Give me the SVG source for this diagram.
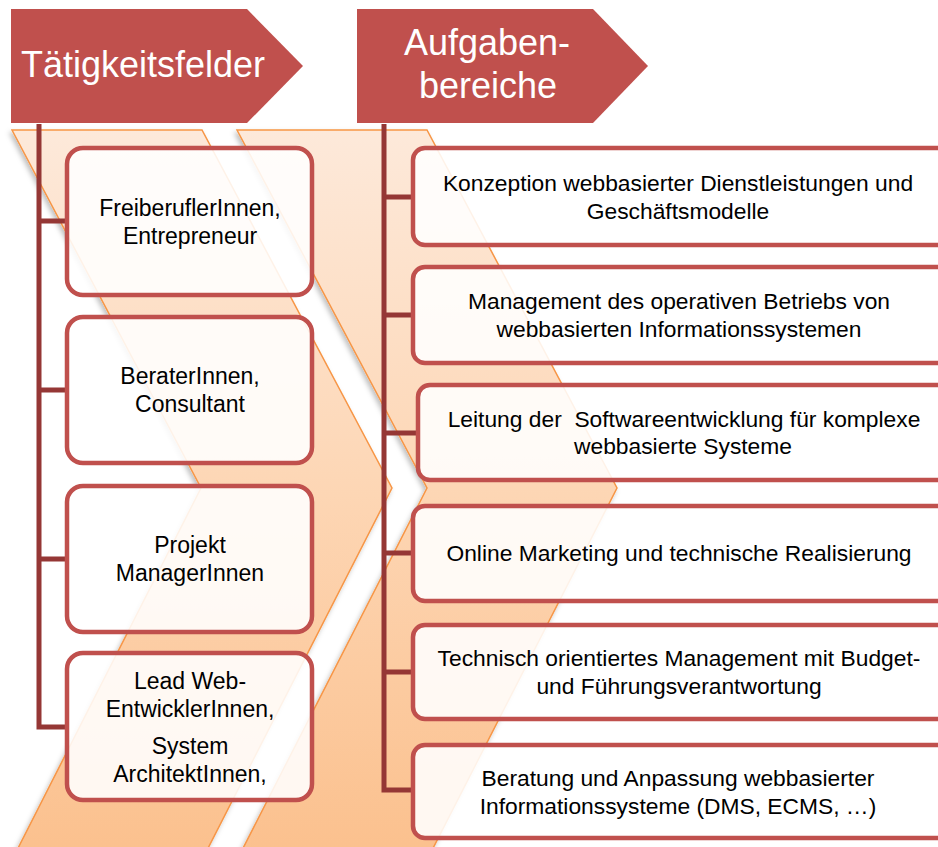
<svg xmlns="http://www.w3.org/2000/svg" width="938" height="847" viewBox="0 0 938 847">
<defs>
<linearGradient id="chevGrad" x1="0" y1="0" x2="0" y2="1">
<stop offset="0" stop-color="#fde9da"/>
<stop offset="0.5" stop-color="#fdd6b4"/>
<stop offset="1" stop-color="#fbc08d"/>
</linearGradient>
<filter id="shadow" x="-10%" y="-10%" width="130%" height="130%">
<feDropShadow dx="-2" dy="3" stdDeviation="2.5" flood-color="#000" flood-opacity="0.25"/>
</filter>
</defs>
<style>
.chev{fill:url(#chevGrad);stroke:#f79646;stroke-width:1.5;filter:url(#shadow)}
.hdr{fill:#c0504d}
.htxt{font-family:"Liberation Sans",Arial,sans-serif;font-size:36px;fill:#fff;text-anchor:middle}
.box{fill:#fff;fill-opacity:0.88;stroke:#c0504d;stroke-width:4.5}
.ltxt{font-family:"Liberation Sans",Arial,sans-serif;font-size:23px;fill:#000;text-anchor:middle}
.rtxt{font-family:"Liberation Sans",Arial,sans-serif;font-size:22.8px;fill:#000;text-anchor:middle;white-space:pre}
.conn{fill:none;stroke:#953735;stroke-width:5}
</style>
<rect width="938" height="847" fill="#fff"/>
<g id="chevrons">
<polygon class="chev" points="12,130 202,130 392,488 202,860 12,860 201,488"/>
<polygon class="chev" points="237,130 427,130 617,488 427,860 237,860 427,488"/>
</g>
<g id="header-taetigkeitsfelder">
<polygon class="hdr" points="11,9 247,9 303,66 247,123 11,123"/>
<text class="htxt" x="143" y="77">Tätigkeitsfelder</text>
</g>
<g id="header-aufgabenbereiche">
<polygon class="hdr" points="357,9 593,9 648,66 593,123 357,123"/>
<text class="htxt" x="487" y="55">Aufgaben-</text>
<text class="htxt" x="488" y="98">bereiche</text>
</g>
<g id="connectors">
<path class="conn" d="M39,124 V727 H67 M39,221 H67 M39,390 H67 M39,559 H67"/>
<path class="conn" d="M384,124 V790 H413 M384,197 H413 M384,315 H413 M384,433 H418 M384,553 H413 M384,672 H413"/>
</g>
<g id="node-freiberufler">
<rect class="box" x="67" y="148" width="245" height="147" rx="16"/>
<text class="ltxt" x="190" y="216">FreiberuflerInnen,</text>
<text class="ltxt" x="190" y="244">Entrepreneur</text>
</g>
<g id="node-berater">
<rect class="box" x="67" y="317" width="245" height="146" rx="16"/>
<text class="ltxt" x="190" y="384">BeraterInnen,</text>
<text class="ltxt" x="190" y="412">Consultant</text>
</g>
<g id="node-projekt">
<rect class="box" x="67" y="486" width="245" height="146" rx="16"/>
<text class="ltxt" x="190" y="553">Projekt</text>
<text class="ltxt" x="190" y="581">ManagerInnen</text>
</g>
<g id="node-lead">
<rect class="box" x="67" y="653" width="245" height="147" rx="16"/>
<text class="ltxt" x="190" y="689">Lead Web-</text>
<text class="ltxt" x="190" y="717">EntwicklerInnen,</text>
<text class="ltxt" x="190" y="754">System</text>
<text class="ltxt" x="190" y="782">ArchitektInnen,</text>
</g>
<g id="node-konzeption">
<rect class="box" x="413" y="148" width="560" height="97" rx="12"/>
<text class="rtxt" x="678" y="191">Konzeption webbasierter Dienstleistungen und</text>
<text class="rtxt" x="678" y="219">Geschäftsmodelle</text>
</g>
<g id="node-management">
<rect class="box" x="413" y="267" width="560" height="96" rx="12"/>
<text class="rtxt" x="679" y="309">Management des operativen Betriebs von</text>
<text class="rtxt" x="679" y="337">webbasierten Informationssystemen</text>
</g>
<g id="node-leitung">
<rect class="box" x="418" y="385" width="560" height="95" rx="12"/>
<text class="rtxt" x="684" y="427">Leitung der  Softwareentwicklung für komplexe</text>
<text class="rtxt" x="683" y="454">webbasierte Systeme</text>
</g>
<g id="node-marketing">
<rect class="box" x="413" y="506" width="560" height="95" rx="12"/>
<text class="rtxt" x="679" y="561">Online Marketing und technische Realisierung</text>
</g>
<g id="node-technisch">
<rect class="box" x="413" y="625" width="560" height="94" rx="12"/>
<text class="rtxt" x="679" y="666">Technisch orientiertes Management mit Budget-</text>
<text class="rtxt" x="679" y="694">und Führungsverantwortung</text>
</g>
<g id="node-beratung">
<rect class="box" x="413" y="745" width="560" height="93" rx="12"/>
<text class="rtxt" x="678" y="786">Beratung und Anpassung webbasierter</text>
<text class="rtxt" x="678" y="814">Informationssysteme (DMS, ECMS, …)</text>
</g>
</svg>
